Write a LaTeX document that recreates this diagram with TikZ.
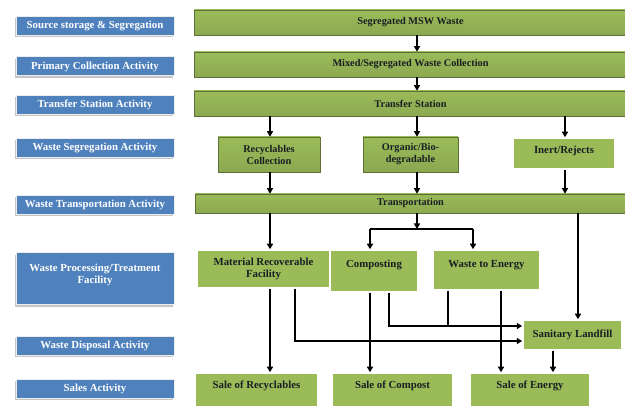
\documentclass[tikz,border=0pt]{standalone}
\usepackage{fontspec}
\setmainfont{Liberation Serif}
\usetikzlibrary{arrows.meta,shadows}
\definecolor{laneblue}{RGB}{79,129,189}
\definecolor{boxgreen}{RGB}{155,187,89}
\definecolor{lightgreen}{RGB}{208,226,170}
\definecolor{inktext}{RGB}{25,30,35}
\tikzset{
  lane/.style={fill=laneblue, draw=gray!15, line width=1pt, text=white,
    font=\fontsize{10.8}{12}\selectfont\bfseries, align=center,
    minimum width=158pt, minimum height=19pt, inner sep=1pt,
    drop shadow={shadow xshift=-1pt, shadow yshift=-2pt, fill=gray!45, opacity=1}},
  bar/.style={top color=boxgreen, middle color=lightgreen, bottom color=boxgreen!90!black,
    draw=boxgreen!60!black, line width=0.6pt, text=inktext,
    font=\fontsize{10.3}{12}\selectfont\bfseries, align=center, inner sep=1pt},
  stage/.style={fill=boxgreen, draw=white, line width=1.5pt, text=inktext,
    font=\fontsize{10.8}{12}\selectfont\bfseries, align=center, inner sep=1pt,
    drop shadow={shadow xshift=1pt, shadow yshift=-1.5pt, fill=gray!35, opacity=1}},
  flow/.style={line width=1.5pt, -{Triangle[length=5.5pt,width=6pt]}},
  link/.style={line width=1.5pt}
}
\begin{document}
\begin{tikzpicture}[x=1pt,y=1pt]
  \useasboundingbox (0,0) rectangle (625,-406);
  \clip (0,0) rectangle (625,-406);
  % activity lanes
  \node[lane] (src) at (95,-26) {Source storage \& Segregation};
  \node[lane] (pri) at (95,-66.5) {Primary Collection Activity};
  \node[lane] (tsa) at (95,-105) {Transfer Station Activity};
  \node[lane] (seg) at (95,-148) {Waste Segregation Activity};
  \node[lane] (tra) at (95,-205) {Waste Transportation Activity};
  \node[lane, minimum height=52pt, text depth=10pt] (pro) at (95,-279) {Waste Processing/Treatment\\Facility};
  \node[lane] (dis) at (95,-346) {Waste Disposal Activity};
  \node[lane] (sal) at (95,-389) {Sales Activity};
  % collection and transfer
  \node[bar, minimum width=433pt, minimum height=25pt] (msw) at (410.5,-22.5) {Segregated MSW Waste};
  \node[bar, minimum width=433pt, minimum height=25pt] (col) at (410.5,-64.5) {Mixed/Segregated Waste Collection};
  \node[bar, minimum width=433pt, minimum height=25pt] (ts) at (410.5,-103.5) {Transfer Station};
  % segregation
  \node[bar, minimum width=102pt, minimum height=35pt] (rec) at (269,-154.5) {Recyclables\\Collection};
  \node[bar, minimum width=95pt, minimum height=35pt] (org) at (410.5,-154.5) {Organic/Bio-\\degradable};
  \node[stage, minimum width=102pt, minimum height=31pt, text depth=8pt] (ine) at (564,-153.5) {Inert/Rejects};
  \node[bar, minimum width=431pt, minimum height=19pt] (trn) at (410.5,-203.5) {Transportation};
  % processing, disposal, sales
  \node[stage, minimum width=133pt, minimum height=38pt] (mrf) at (263.5,-269) {Material Recoverable\\Facility};
  \node[stage, minimum width=88pt, minimum height=42pt, text depth=14pt] (cmp) at (374,-271) {Composting};
  \node[stage, minimum width=107pt, minimum height=40pt, text depth=12pt] (wte) at (486.5,-270) {Waste to Energy};
  \node[stage, minimum width=99pt, minimum height=30pt] (lfl) at (572.5,-335) {Sanitary Landfill};
  \node[stage, minimum width=123pt, minimum height=42pt, text depth=18pt] (srec) at (256.5,-394) {Sale of Recyclables};
  \node[stage, minimum width=121pt, minimum height=42pt, text depth=18pt] (scom) at (392.5,-394) {Sale of Compost};
  \node[stage, minimum width=120pt, minimum height=42pt, text depth=18pt] (sene) at (530,-394) {Sale of Energy};
  % columns of the connectors
  \coordinate (xa) at (270,0);
  \coordinate (xb) at (295,0);
  \coordinate (xc) at (370,0);
  \coordinate (xd) at (389,0);
  \coordinate (xm) at (417,0);
  \coordinate (xe) at (448,0);
  \coordinate (xf) at (473,0);
  \coordinate (xg) at (501,0);
  \coordinate (xh) at (553,0);
  \coordinate (xr) at (565,0);
  \coordinate (xi) at (578,0);
  \coordinate (split) at (417,-229);
  \coordinate (lup) at ([yshift=9pt]lfl.west);
  \coordinate (llo) at ([yshift=-6pt]lfl.west);
  % flow
  \draw[flow] (msw.south -| xm) -- (col.north -| xm);
  \draw[flow] (col.south -| xm) -- (ts.north -| xm);
  \draw[flow] (ts.south -| xa) -- (rec.north -| xa);
  \draw[flow] (ts.south -| xm) -- (org.north -| xm);
  \draw[flow] (ts.south -| xr) -- (ine.north -| xr);
  \draw[flow] (rec.south -| xa) -- (trn.north -| xa);
  \draw[flow] (org.south -| xm) -- (trn.north -| xm);
  \draw[flow] (ine.south -| xr) -- (trn.north -| xr);
  \draw[flow] (trn.south -| xa) -- (mrf.north -| xa);
  \draw[flow] (trn.south -| xm) -- (split);
  \draw[link] (split -| xc) -- (split -| xf);
  \draw[flow] (split -| xc) -- (cmp.north -| xc);
  \draw[flow] (split -| xf) -- (wte.north -| xf);
  \draw[flow] (trn.south -| xi) -- (lfl.north -| xi);
  % to landfill and sales
  \draw[flow] (mrf.south -| xa) -- (srec.north -| xa);
  \draw[flow] (mrf.south -| xb) |- (llo);
  \draw[flow] (cmp.south -| xc) -- (scom.north -| xc);
  \draw[flow] (cmp.south -| xd) |- (lup);
  \draw[link] (wte.south -| xe) -- (lup -| xe);
  \draw[flow] (wte.south -| xg) -- (sene.north -| xg);
  \draw[flow] (lfl.south -| xh) -- (sene.north -| xh);
\end{tikzpicture}
\end{document}
